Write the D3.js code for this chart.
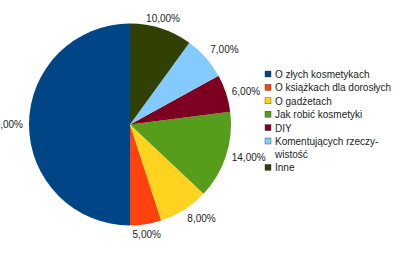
<!DOCTYPE html>
<html><head><meta charset="utf-8">
<script src="https://cdn.jsdelivr.net/npm/d3@7"></script>
<style>body{margin:0;background:#fff}svg{display:block}</style>
</head><body>
<script>
const categories = ["O złych kosmetykach","O książkach dla dorosłych","O gadżetach","Jak robić kosmetyki","DIY","Komentujących rzeczy-\nwistość","Inne"];
const values = [50,5,8,14,6,7,10];
const valueLabels = ["50,00%","5,00%","8,00%","14,00%","6,00%","7,00%","10,00%"];
const colors = ["#004586","#ff420e","#ffd320","#579d1c","#7e0021","#83caff","#314004"];

const W=400,H=259, cx=130, cy=124.5, r=101;
const svg=d3.select("body").append("svg").attr("width",W).attr("height",H);
const data = categories.map((c,i)=>({c,v:values[i],lab:valueLabels[i],col:colors[i]}));
const pie=d3.pie().value(d=>d.v).sort(null).startAngle(0).endAngle(-2*Math.PI);
const arcs=pie(data);
const arc=d3.arc().innerRadius(0).outerRadius(r);
const g=svg.append("g").attr("transform",`translate(${cx},${cy})`);
g.selectAll("path").data(arcs).join("path").attr("d",arc).attr("fill",d=>d.data.col);

const lr=r+6;
g.selectAll("text").data(arcs).join("text")
 .each(function(d){
   const a=(d.startAngle+d.endAngle)/2;
   const s=Math.sin(a), c=Math.cos(a);
   const x=lr*s, y=-lr*c;
   const anchor = s>0.35?"start":(s<-0.35?"end":"middle");
   const dy = c>0.5?"-0.1em":(c<-0.5?"0.75em":"0.35em");
   d3.select(this).attr("x",x).attr("y",y).attr("dy",dy).attr("text-anchor",anchor);
 })
 .attr("font-family","Liberation Sans, Arial, sans-serif").attr("font-size",10).attr("fill","#222")
 .text(d=>d.data.lab);

const lg=svg.append("g").attr("transform","translate(265,71)");
let yy=0;
data.forEach(d=>{
  const lines=d.c.split("\n");
  lg.append("rect").attr("x",0).attr("y",yy).attr("width",6).attr("height",6).attr("fill",d.col).attr("stroke","#333").attr("stroke-width",0.4);
  const t=lg.append("text").attr("x",10).attr("y",yy+7).attr("font-family","Liberation Sans, Arial, sans-serif").attr("font-size",10).attr("fill","#222");
  lines.forEach((l,i)=>t.append("tspan").attr("x",10).attr("dy",i?13:0).text(l));
  yy+=13.4+ (lines.length-1)*13;
});
</script>
</body></html>
